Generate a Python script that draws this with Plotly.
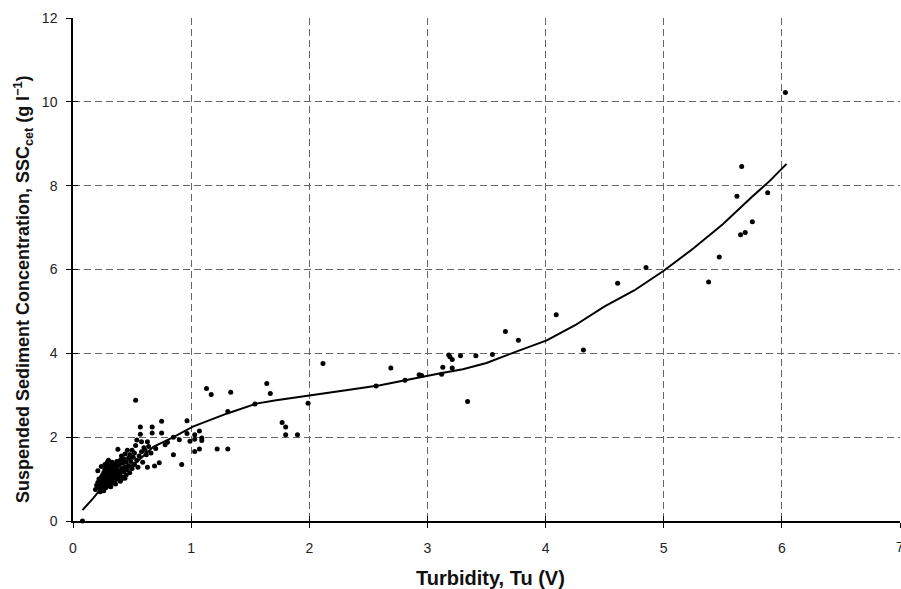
import plotly.graph_objects as go

# Observed data: turbidity (V) and SSC (g/l)
obs_x = [
    0.08,
    # dense low-turbidity cluster
    0.19, 0.20, 0.21, 0.22, 0.22, 0.23, 0.23, 0.24, 0.24, 0.25, 0.25, 0.25, 0.26, 0.26, 0.26,
    0.27, 0.27, 0.27, 0.28, 0.28, 0.28, 0.28, 0.29, 0.29, 0.29, 0.30, 0.30, 0.30, 0.30,
    0.31, 0.31, 0.31, 0.32, 0.32, 0.32, 0.33, 0.33, 0.33, 0.34, 0.34, 0.34, 0.35, 0.35, 0.35,
    0.36, 0.36, 0.36, 0.37, 0.37, 0.37, 0.38, 0.38, 0.38, 0.39, 0.39, 0.40, 0.40, 0.40,
    0.41, 0.41, 0.42, 0.42, 0.43, 0.43, 0.44, 0.44, 0.45, 0.45, 0.46, 0.46, 0.47, 0.47,
    0.48, 0.48, 0.49, 0.50, 0.50, 0.51, 0.52, 0.52, 0.53, 0.54, 0.54, 0.55, 0.56,
    0.21, 0.24, 0.27, 0.30, 0.33, 0.23, 0.26, 0.29, 0.32, 0.35, 0.38, 0.41, 0.44,
    # mid cluster
    0.53, 0.57, 0.57, 0.58, 0.58, 0.59, 0.60, 0.61, 0.62, 0.63, 0.63, 0.64, 0.66, 0.67, 0.67,
    0.69, 0.70, 0.73, 0.75, 0.75, 0.78, 0.80, 0.85, 0.85, 0.90, 0.92, 0.965, 0.965, 0.99,
    1.03, 1.03, 1.03, 1.07, 1.07, 1.09, 1.09, 1.13, 1.17, 1.22, 1.31, 1.31, 1.335, 1.54,
    1.64, 1.67, 1.77, 1.80, 1.80, 1.90, 1.99, 2.116, 2.565, 2.69, 2.81, 2.93, 2.95,
    3.12, 3.13, 3.18, 3.19, 3.21, 3.21, 3.28, 3.34, 3.41, 3.55, 3.66, 3.77,
    4.09, 4.32, 4.61, 4.85, 5.38, 5.47, 5.62, 5.65, 5.66, 5.69, 5.75, 5.88, 6.03,
]
obs_y = [
    0.00,
    0.75, 0.85, 0.92, 0.80, 1.00, 0.88, 0.95, 1.05, 0.78, 0.90, 1.10, 0.84, 0.98, 1.15, 0.72,
    1.02, 0.88, 1.22, 0.95, 1.30, 1.08, 0.80, 1.12, 1.00, 1.40, 0.92, 1.18, 1.05, 1.25,
    0.85, 1.10, 1.32, 0.98, 1.20, 1.05, 1.15, 0.90, 1.28, 1.02, 1.22, 1.10, 0.95, 1.35, 1.18,
    1.05, 1.25, 0.88, 1.12, 1.42, 1.30, 1.00, 1.20, 1.71, 1.08, 1.35, 1.15, 1.45, 0.95,
    1.25, 1.55, 1.05, 1.38, 1.18, 1.48, 1.28, 1.60, 1.10, 1.40, 1.69, 1.22, 1.50, 1.32,
    1.58, 1.15, 1.42, 1.69, 1.25, 1.52, 1.35, 1.62, 1.80, 1.45, 1.93, 1.28, 1.55,
    1.20, 1.30, 1.35, 1.45, 1.40, 0.70, 0.78, 0.86, 0.82, 0.98, 1.12, 1.00, 1.02,
    2.88, 2.07, 2.24, 1.89, 1.65, 1.40, 1.75, 1.69, 1.58, 1.89, 1.28, 1.78, 1.62, 2.10, 2.24,
    1.31, 1.73, 1.39, 2.10, 2.38, 1.82, 1.88, 2.00, 1.58, 1.94, 1.35, 2.39, 2.09, 1.90,
    2.06, 1.95, 1.66, 2.15, 1.72, 1.98, 1.92, 3.16, 3.02, 1.72, 1.72, 2.61, 3.07, 2.79,
    3.28, 3.04, 2.35, 2.24, 2.06, 2.06, 2.81, 3.76, 3.22, 3.65, 3.36, 3.49, 3.47,
    3.50, 3.67, 3.96, 3.92, 3.85, 3.65, 3.94, 2.85, 3.94, 3.97, 4.52, 4.31,
    4.92, 4.08, 5.67, 6.05, 5.70, 6.30, 7.75, 6.83, 8.46, 6.88, 7.14, 7.83, 10.22,
]

# Fitted calibration curve
fit_x = [0.08, 0.17, 0.25, 0.39, 0.54, 0.68, 0.85, 1.015, 1.30, 1.55, 1.72, 1.995,
         2.31, 2.60, 2.88, 3.10, 3.30, 3.50, 3.78, 4.01, 4.25, 4.50, 4.75, 5.00,
         5.25, 5.50, 5.75, 5.90, 6.04]
fit_y = [0.26, 0.54, 0.82, 1.13, 1.41, 1.77, 2.00, 2.25, 2.56, 2.80, 2.88, 3.00,
         3.12, 3.24, 3.40, 3.52, 3.62, 3.77, 4.07, 4.31, 4.67, 5.12, 5.50, 5.97,
         6.50, 7.08, 7.74, 8.12, 8.52]

x_ticks = [0, 1, 2, 3, 4, 5, 6, 7]
y_ticks = [0, 2, 4, 6, 8, 10, 12]
x_title = "<b>Turbidity, Tu (V)</b>"
y_title = "<b>Suspended Sediment Concentration, SSC<sub>cet</sub> (g l<sup>\u22121</sup>)</b>"

FONT = "Liberation Sans, Arial, sans-serif"
GRID = dict(showgrid=True, gridcolor="#666", griddash="7px,4px", gridwidth=1)

fig = go.Figure()
fig.add_trace(go.Scatter(x=obs_x, y=obs_y, mode="markers",
                         marker=dict(color="black", size=5, line=dict(width=0)),
                         showlegend=False, cliponaxis=False))
fig.add_trace(go.Scatter(x=fit_x, y=fit_y, mode="lines",
                         line=dict(color="black", width=2), showlegend=False))
# empty trace on overlay axes to draw inner half of crossing tick marks
fig.add_trace(go.Scatter(x=[None], y=[None], xaxis="x2", yaxis="y2",
                         showlegend=False, hoverinfo="skip"))

fig.update_layout(
    width=901, height=589,
    margin=dict(l=73, r=1, t=18, b=68),
    paper_bgcolor="white", plot_bgcolor="white",
    font=dict(family=FONT, color="#222", size=14),
    xaxis=dict(
        range=[0, 7], tickvals=x_ticks, ticktext=[str(v) for v in x_ticks],
        showline=True, linecolor="black", linewidth=1.5,
        ticks="outside", ticklen=5, tickcolor="black", zeroline=False,
        ticklabelstandoff=8,
        **GRID,
    ),
    yaxis=dict(
        range=[0, 12], tickvals=y_ticks, ticktext=[str(v) for v in y_ticks],
        showline=True, linecolor="black", linewidth=1.5,
        ticks="outside", ticklen=5, tickcolor="black", zeroline=False,
        ticklabelstandoff=6,
        **GRID,
    ),
    xaxis2=dict(overlaying="x", anchor="y2", range=[0, 7], tickvals=x_ticks,
                showticklabels=False, ticks="inside", ticklen=5, tickcolor="black",
                showgrid=False, zeroline=False, showline=False, side="bottom"),
    yaxis2=dict(overlaying="y", anchor="x2", range=[0, 12], tickvals=y_ticks,
                showticklabels=False, ticks="inside", ticklen=5, tickcolor="black",
                showgrid=False, zeroline=False, showline=False, side="left"),
    annotations=[
        # x-axis title
        dict(text=x_title, xref="paper", yref="paper", x=0.5, y=0, xshift=4, yshift=-57,
             xanchor="center", yanchor="middle", showarrow=False,
             font=dict(size=20, color="#111")),
        # y-axis title
        dict(text=y_title, xref="paper", yref="paper", x=0, y=0.461, xshift=-50,
             xanchor="center", yanchor="middle", textangle=-90, showarrow=False,
             font=dict(size=18, color="#111")),
        # partially visible last tick label at the right edge
        dict(text=str(x_ticks[-1]), xref="x", yref="paper", x=x_ticks[-1], y=0, yshift=-26,
             xanchor="center", yanchor="middle", showarrow=False,
             font=dict(size=14, color="#222")),
    ],
)

fig.write_html("out.html")
